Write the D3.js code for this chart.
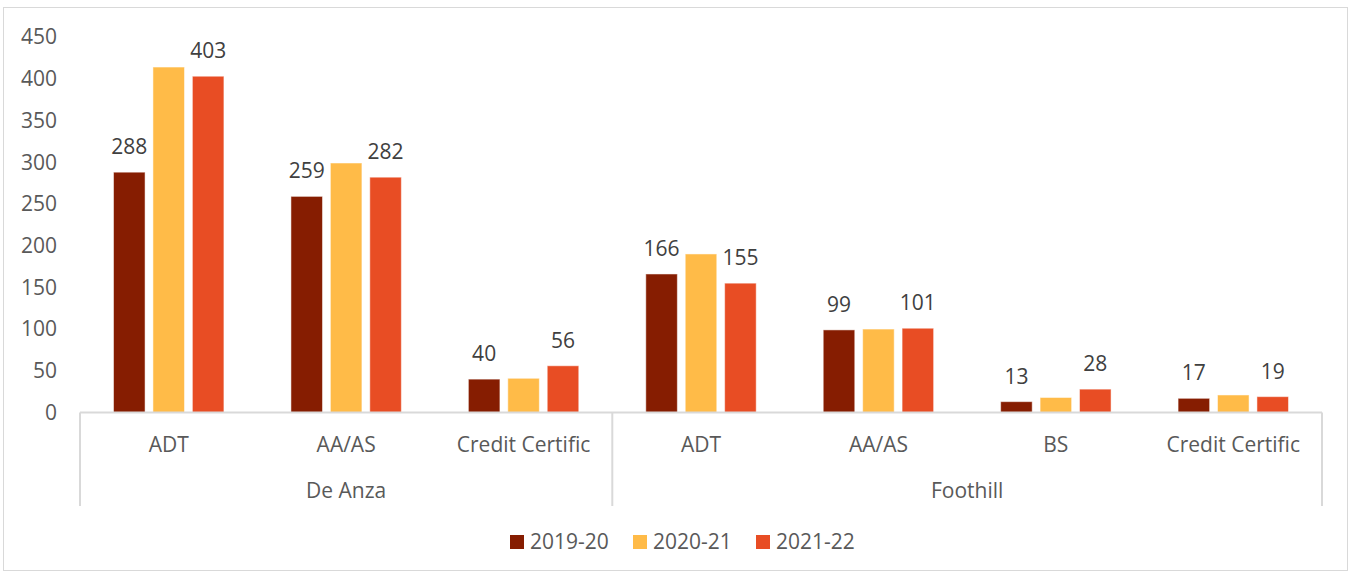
<!DOCTYPE html>
<html>
<head>
<meta charset="utf-8">
<script src="https://cdn.jsdelivr.net/npm/d3@7"></script>
<style>
  body { margin: 0; background: #fff; }
  svg text { font-family: "Open Sans", "Liberation Sans", sans-serif; font-size: 21px; }
</style>
</head>
<body>
<svg id="chart" width="1352" height="574"></svg>
<script>
// Data
const colleges = ["De Anza", "Foothill"];
const categories = [
  { college: "De Anza", award: "ADT" },
  { college: "De Anza", award: "AA/AS" },
  { college: "De Anza", award: "Credit Certific" },
  { college: "Foothill", award: "ADT" },
  { college: "Foothill", award: "AA/AS" },
  { college: "Foothill", award: "BS" },
  { college: "Foothill", award: "Credit Certific" }
];
const years = ["2019-20", "2020-21", "2021-22"];
const values2019 = [288, 259, 40, 166, 99, 13, 17];
const values2020 = [414, 299, 41, 190, 100, 18, 21];
const values2021 = [403, 282, 56, 155, 101, 28, 19];
const showLabel = [true, false, true];
const yTicks = [0, 50, 100, 150, 200, 250, 300, 350, 400, 450];
const colors = ["#861D01", "#FFBB48", "#E84D24"];

const series = [values2019, values2020, values2021];

// Layout
const plotLeft = 80, plotRight = 1322, plotTop = 37, plotBottom = 412.5;

const svg = d3.select("#chart");

// outer frame
svg.append("rect")
  .attr("x", 3.5).attr("y", 7.5)
  .attr("width", 1344).attr("height", 563)
  .attr("fill", "#fff")
  .attr("stroke", "#d9d9d9")
  .attr("stroke-width", 1);

const x = d3.scaleBand()
  .domain(d3.range(categories.length))
  .range([plotLeft, plotRight]);

const xInner = d3.scaleBand()
  .domain(years)
  .range([0, x.bandwidth()])
  .paddingInner(0.2)
  .paddingOuter(0.85);

const y = d3.scaleLinear()
  .domain([0, 450])
  .range([plotBottom, plotTop]);

// y axis labels
svg.append("g")
  .selectAll("text")
  .data(yTicks)
  .join("text")
  .attr("x", 57)
  .attr("y", d => y(d))
  .attr("dy", "0.35em")
  .attr("text-anchor", "end")
  .attr("fill", "#595959")
  .text(d => d);

// bars
const groups = svg.append("g")
  .selectAll("g")
  .data(categories)
  .join("g")
  .attr("transform", (d, i) => `translate(${x(i)},0)`);

groups.each(function(c, i) {
  const g = d3.select(this);
  years.forEach((yr, s) => {
    const v = series[s][i];
    g.append("rect")
      .attr("x", xInner(yr))
      .attr("y", y(v))
      .attr("width", xInner.bandwidth())
      .attr("height", y(0) - y(v))
      .attr("fill", colors[s])
      .attr("stroke", "#fff")
      .attr("stroke-opacity", 0.5)
      .attr("stroke-width", 1);
    if (showLabel[s]) {
      g.append("text")
        .attr("x", xInner(yr) + xInner.bandwidth() / 2)
        .attr("y", y(v) - 18)
        .attr("text-anchor", "middle")
        .attr("fill", "#404040")
        .text(v);
    }
  });
});

// category axis
const axisColor = "#d9d9d9";
svg.append("line")
  .attr("x1", plotLeft).attr("x2", plotRight)
  .attr("y1", plotBottom).attr("y2", plotBottom)
  .attr("stroke", axisColor).attr("stroke-width", 2);

// separators between colleges
const sepIdx = [0, 3, categories.length];
svg.append("g")
  .selectAll("line")
  .data(sepIdx)
  .join("line")
  .attr("x1", i => i < categories.length ? x(i) : plotRight)
  .attr("x2", i => i < categories.length ? x(i) : plotRight)
  .attr("y1", plotBottom)
  .attr("y2", 506)
  .attr("stroke", axisColor)
  .attr("stroke-width", 2);

svg.append("g")
  .selectAll("text")
  .data(categories)
  .join("text")
  .attr("x", (d, i) => x(i) + x.bandwidth() / 2)
  .attr("y", 452)
  .attr("text-anchor", "middle")
  .attr("fill", "#595959")
  .text(d => d.award);

svg.append("g")
  .selectAll("text")
  .data(colleges)
  .join("text")
  .attr("x", col => {
    const idx = categories.map((c, i) => c.college === col ? i : -1).filter(i => i >= 0);
    return (x(idx[0]) + x(idx[idx.length - 1]) + x.bandwidth()) / 2;
  })
  .attr("y", 498)
  .attr("text-anchor", "middle")
  .attr("fill", "#595959")
  .text(d => d);

// legend
const legendX = [510, 633, 756];
const legend = svg.append("g")
  .selectAll("g")
  .data(years)
  .join("g")
  .attr("transform", (d, i) => `translate(${legendX[i]},535)`);

legend.append("rect")
  .attr("width", 14).attr("height", 14)
  .attr("fill", (d, i) => colors[i]);

legend.append("text")
  .attr("x", 20)
  .attr("y", 14)
  .attr("fill", "#595959")
  .text(d => d);
</script>
</body>
</html>
